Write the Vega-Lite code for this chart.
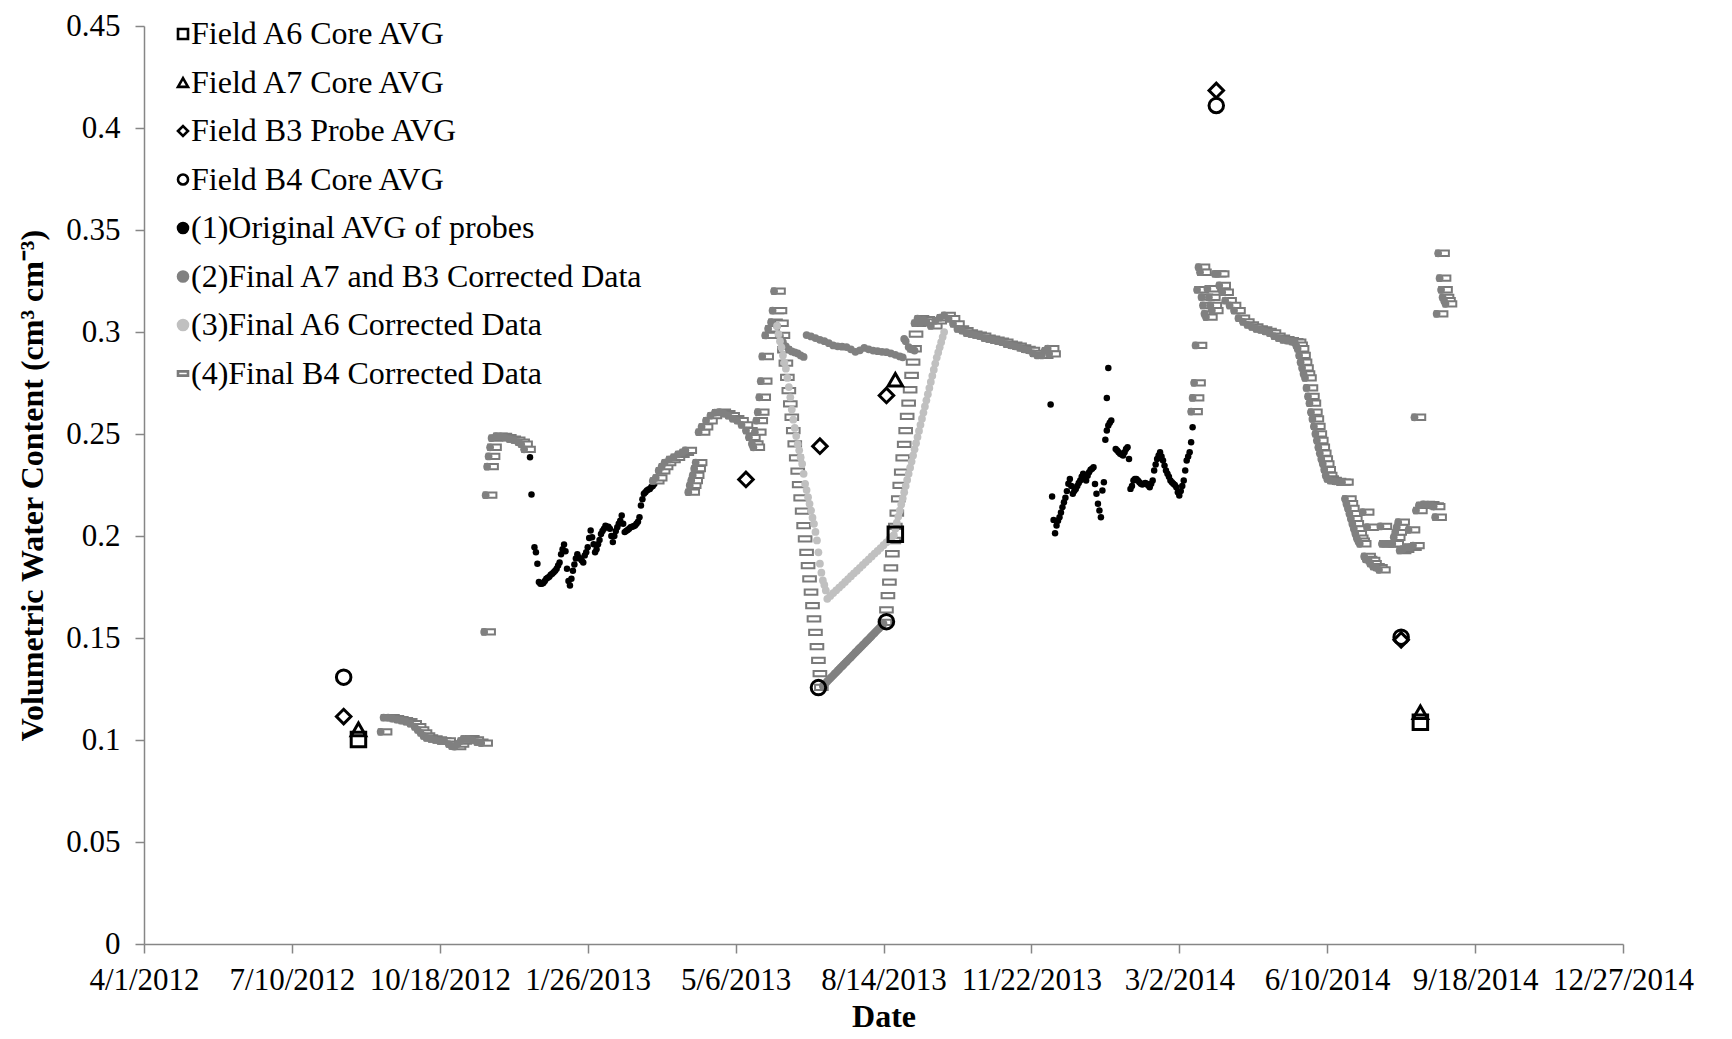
{
"$schema": "https://vega.github.io/schema/vega-lite/v6.json",
"width": 1479, "height": 918,
"autosize": {"type": "none"},
"padding": {"left": 144, "top": 26, "right": 109, "bottom": 95},
"background": "white",
"data": {"values": [
{"day":261,"v":0.2386,"s":"1"},{"day":262,"v":0.2203,"s":"1"},{"day":264,"v":0.1945,"s":"1"},{"day":265,"v":0.192,"s":"1"},{"day":266,"v":0.1864,"s":"1"},{"day":267,"v":0.1774,"s":"1"},{"day":268,"v":0.1766,"s":"1"},{"day":269,"v":0.1766,"s":"1"},{"day":270,"v":0.177,"s":"1"},{"day":271,"v":0.178,"s":"1"},{"day":272,"v":0.179,"s":"1"},{"day":273,"v":0.1795,"s":"1"},{"day":274,"v":0.18,"s":"1"},{"day":275,"v":0.181,"s":"1"},{"day":276,"v":0.1815,"s":"1"},{"day":277,"v":0.1822,"s":"1"},{"day":278,"v":0.183,"s":"1"},{"day":279,"v":0.184,"s":"1"},{"day":280,"v":0.1855,"s":"1"},{"day":281,"v":0.187,"s":"1"},{"day":282,"v":0.191,"s":"1"},{"day":283,"v":0.1935,"s":"1"},{"day":284,"v":0.1958,"s":"1"},{"day":285,"v":0.1925,"s":"1"},{"day":286,"v":0.184,"s":"1"},{"day":287,"v":0.178,"s":"1"},{"day":288,"v":0.1757,"s":"1"},{"day":289,"v":0.179,"s":"1"},{"day":290,"v":0.183,"s":"1"},{"day":291,"v":0.186,"s":"1"},{"day":292,"v":0.189,"s":"1"},{"day":293,"v":0.191,"s":"1"},{"day":294,"v":0.1895,"s":"1"},{"day":295,"v":0.1888,"s":"1"},{"day":296,"v":0.188,"s":"1"},{"day":297,"v":0.187,"s":"1"},{"day":298,"v":0.1905,"s":"1"},{"day":299,"v":0.192,"s":"1"},{"day":300,"v":0.1945,"s":"1"},{"day":301,"v":0.199,"s":"1"},{"day":302,"v":0.2027,"s":"1"},{"day":303,"v":0.1994,"s":"1"},{"day":304,"v":0.196,"s":"1"},{"day":305,"v":0.192,"s":"1"},{"day":306,"v":0.1935,"s":"1"},{"day":307,"v":0.196,"s":"1"},{"day":308,"v":0.198,"s":"1"},{"day":309,"v":0.201,"s":"1"},{"day":310,"v":0.2025,"s":"1"},{"day":311,"v":0.2035,"s":"1"},{"day":312,"v":0.205,"s":"1"},{"day":313,"v":0.2045,"s":"1"},{"day":314,"v":0.2045,"s":"1"},{"day":315,"v":0.2035,"s":"1"},{"day":316,"v":0.2,"s":"1"},{"day":317,"v":0.197,"s":"1"},{"day":318,"v":0.2,"s":"1"},{"day":319,"v":0.2025,"s":"1"},{"day":320,"v":0.2043,"s":"1"},{"day":321,"v":0.206,"s":"1"},{"day":322,"v":0.2075,"s":"1"},{"day":323,"v":0.21,"s":"1"},{"day":324,"v":0.206,"s":"1"},{"day":325,"v":0.2019,"s":"1"},{"day":326,"v":0.2025,"s":"1"},{"day":327,"v":0.203,"s":"1"},{"day":328,"v":0.2035,"s":"1"},{"day":329,"v":0.2043,"s":"1"},{"day":330,"v":0.2045,"s":"1"},{"day":331,"v":0.2048,"s":"1"},{"day":332,"v":0.2051,"s":"1"},{"day":333,"v":0.206,"s":"1"},{"day":334,"v":0.207,"s":"1"},{"day":335,"v":0.2092,"s":"1"},{"day":336,"v":0.215,"s":"1"},{"day":337,"v":0.218,"s":"1"},{"day":338,"v":0.2207,"s":"1"},{"day":339,"v":0.2215,"s":"1"},{"day":340,"v":0.2223,"s":"1"},{"day":341,"v":0.2228,"s":"1"},{"day":342,"v":0.223,"s":"1"},{"day":343,"v":0.224,"s":"1"},{"day":344,"v":0.2245,"s":"1"},{"day":345,"v":0.2255,"s":"1"},
{"day":613,"v":0.2645,"s":"1"},{"day":614,"v":0.2194,"s":"1"},{"day":615,"v":0.2079,"s":"1"},{"day":616,"v":0.2014,"s":"1"},{"day":617,"v":0.2051,"s":"1"},{"day":618,"v":0.2075,"s":"1"},{"day":619,"v":0.2092,"s":"1"},{"day":620,"v":0.2115,"s":"1"},{"day":621,"v":0.2141,"s":"1"},{"day":622,"v":0.2165,"s":"1"},{"day":623,"v":0.2187,"s":"1"},{"day":624,"v":0.222,"s":"1"},{"day":625,"v":0.2256,"s":"1"},{"day":626,"v":0.228,"s":"1"},{"day":627,"v":0.2245,"s":"1"},{"day":628,"v":0.2207,"s":"1"},{"day":629,"v":0.222,"s":"1"},{"day":630,"v":0.2231,"s":"1"},{"day":631,"v":0.2245,"s":"1"},{"day":632,"v":0.226,"s":"1"},{"day":633,"v":0.2272,"s":"1"},{"day":634,"v":0.229,"s":"1"},{"day":635,"v":0.2305,"s":"1"},{"day":636,"v":0.229,"s":"1"},{"day":637,"v":0.2272,"s":"1"},{"day":638,"v":0.2295,"s":"1"},{"day":639,"v":0.2313,"s":"1"},{"day":640,"v":0.2325,"s":"1"},{"day":641,"v":0.233,"s":"1"},{"day":642,"v":0.2337,"s":"1"},{"day":643,"v":0.2255,"s":"1"},{"day":644,"v":0.2207,"s":"1"},{"day":645,"v":0.2158,"s":"1"},{"day":646,"v":0.2125,"s":"1"},{"day":647,"v":0.2092,"s":"1"},{"day":648,"v":0.2223,"s":"1"},{"day":649,"v":0.2264,"s":"1"},{"day":650,"v":0.2472,"s":"1"},{"day":651,"v":0.2517,"s":"1"},{"day":651,"v":0.2677,"s":"1"},{"day":652,"v":0.2542,"s":"1"},{"day":652,"v":0.2823,"s":"1"},{"day":653,"v":0.2555,"s":"1"},{"day":654,"v":0.2566,"s":"1"},{"day":657,"v":0.2427,"s":"1"},{"day":658,"v":0.2419,"s":"1"},{"day":659,"v":0.241,"s":"1"},{"day":660,"v":0.2403,"s":"1"},{"day":661,"v":0.2399,"s":"1"},{"day":662,"v":0.2395,"s":"1"},{"day":663,"v":0.241,"s":"1"},{"day":664,"v":0.2427,"s":"1"},{"day":665,"v":0.2435,"s":"1"},{"day":666,"v":0.2378,"s":"1"},{"day":667,"v":0.2231,"s":"1"},{"day":668,"v":0.2245,"s":"1"},{"day":669,"v":0.2272,"s":"1"},{"day":670,"v":0.228,"s":"1"},{"day":671,"v":0.228,"s":"1"},{"day":672,"v":0.2272,"s":"1"},{"day":673,"v":0.2264,"s":"1"},{"day":674,"v":0.2256,"s":"1"},{"day":675,"v":0.2252,"s":"1"},{"day":676,"v":0.2256,"s":"1"},{"day":677,"v":0.226,"s":"1"},{"day":678,"v":0.2256,"s":"1"},{"day":679,"v":0.2248,"s":"1"},{"day":680,"v":0.2239,"s":"1"},{"day":681,"v":0.2256,"s":"1"},{"day":682,"v":0.2272,"s":"1"},{"day":683,"v":0.2321,"s":"1"},{"day":684,"v":0.235,"s":"1"},{"day":685,"v":0.2378,"s":"1"},{"day":686,"v":0.2395,"s":"1"},{"day":687,"v":0.2411,"s":"1"},{"day":688,"v":0.239,"s":"1"},{"day":689,"v":0.237,"s":"1"},{"day":690,"v":0.2345,"s":"1"},{"day":691,"v":0.2321,"s":"1"},{"day":692,"v":0.2305,"s":"1"},{"day":693,"v":0.229,"s":"1"},{"day":694,"v":0.2272,"s":"1"},{"day":695,"v":0.2264,"s":"1"},{"day":696,"v":0.2256,"s":"1"},{"day":697,"v":0.225,"s":"1"},{"day":698,"v":0.2239,"s":"1"},{"day":699,"v":0.2215,"s":"1"},{"day":700,"v":0.2199,"s":"1"},{"day":701,"v":0.222,"s":"1"},{"day":702,"v":0.2245,"s":"1"},{"day":703,"v":0.2272,"s":"1"},{"day":704,"v":0.2321,"s":"1"},{"day":705,"v":0.237,"s":"1"},{"day":706,"v":0.239,"s":"1"},{"day":707,"v":0.2411,"s":"1"},{"day":708,"v":0.246,"s":"1"},{"day":709,"v":0.2533,"s":"1"},
{"day":163,"v":0.104,"s":"4"},{"day":165,"v":0.111,"s":"4"},{"day":168,"v":0.111,"s":"4"},{"day":171,"v":0.1105,"s":"4"},{"day":174,"v":0.11,"s":"4"},{"day":177,"v":0.1095,"s":"4"},{"day":180,"v":0.109,"s":"4"},{"day":183,"v":0.108,"s":"4"},{"day":186,"v":0.1065,"s":"4"},{"day":188,"v":0.105,"s":"4"},{"day":190,"v":0.1035,"s":"4"},{"day":192,"v":0.102,"s":"4"},{"day":194,"v":0.101,"s":"4"},{"day":197,"v":0.1005,"s":"4"},{"day":200,"v":0.1,"s":"4"},{"day":203,"v":0.0995,"s":"4"},{"day":206,"v":0.0995,"s":"4"},{"day":209,"v":0.098,"s":"4"},{"day":211,"v":0.097,"s":"4"},{"day":213,"v":0.0968,"s":"4"},{"day":215,"v":0.098,"s":"4"},{"day":217,"v":0.0995,"s":"4"},{"day":219,"v":0.1005,"s":"4"},{"day":222,"v":0.1006,"s":"4"},{"day":225,"v":0.1,"s":"4"},{"day":228,"v":0.099,"s":"4"},{"day":231,"v":0.0985,"s":"4"},
{"day":233,"v":0.153,"s":"4"},{"day":234,"v":0.22,"s":"4"},{"day":235,"v":0.234,"s":"4"},{"day":236,"v":0.239,"s":"4"},{"day":237,"v":0.2435,"s":"4"},{"day":238,"v":0.248,"s":"4"},{"day":241,"v":0.249,"s":"4"},{"day":244,"v":0.2488,"s":"4"},{"day":247,"v":0.2482,"s":"4"},{"day":250,"v":0.2475,"s":"4"},{"day":253,"v":0.247,"s":"4"},{"day":256,"v":0.246,"s":"4"},{"day":258,"v":0.245,"s":"4"},{"day":260,"v":0.2425,"s":"4"},
{"day":347,"v":0.227,"s":"4"},{"day":349,"v":0.2285,"s":"4"},{"day":351,"v":0.232,"s":"4"},{"day":353,"v":0.234,"s":"4"},{"day":355,"v":0.236,"s":"4"},{"day":358,"v":0.2375,"s":"4"},{"day":361,"v":0.2386,"s":"4"},{"day":364,"v":0.24,"s":"4"},{"day":367,"v":0.241,"s":"4"},{"day":369,"v":0.242,"s":"4"},{"day":371,"v":0.2215,"s":"4"},{"day":372,"v":0.2248,"s":"4"},{"day":373,"v":0.2272,"s":"4"},{"day":374,"v":0.2297,"s":"4"},{"day":375,"v":0.233,"s":"4"},{"day":376,"v":0.236,"s":"4"},{"day":378,"v":0.2509,"s":"4"},{"day":380,"v":0.2535,"s":"4"},{"day":383,"v":0.2565,"s":"4"},{"day":386,"v":0.259,"s":"4"},{"day":389,"v":0.2605,"s":"4"},{"day":392,"v":0.2607,"s":"4"},{"day":395,"v":0.26,"s":"4"},{"day":398,"v":0.259,"s":"4"},{"day":401,"v":0.2575,"s":"4"},{"day":404,"v":0.2566,"s":"4"},{"day":407,"v":0.2545,"s":"4"},{"day":410,"v":0.2517,"s":"4"},{"day":412,"v":0.2484,"s":"4"},{"day":414,"v":0.2452,"s":"4"},{"day":415,"v":0.2435,"s":"4"},{"day":416,"v":0.2509,"s":"4"},{"day":417,"v":0.2566,"s":"4"},{"day":418,"v":0.2607,"s":"4"},{"day":419,"v":0.268,"s":"4"},{"day":420,"v":0.2759,"s":"4"},{"day":421,"v":0.288,"s":"4"},{"day":423,"v":0.2983,"s":"4"},{"day":425,"v":0.3016,"s":"4"},{"day":427,"v":0.3048,"s":"4"},{"day":428,"v":0.3105,"s":"4"},{"day":429,"v":0.32,"s":"4"},{"day":430,"v":0.3105,"s":"4"},{"day":431,"v":0.3043,"s":"4"},{"day":432,"v":0.2983,"s":"4"},{"day":433,"v":0.2913,"s":"4"},{"day":434,"v":0.2847,"s":"4"},{"day":435,"v":0.2778,"s":"4"},{"day":436,"v":0.2713,"s":"4"},{"day":437,"v":0.2648,"s":"4"},{"day":438,"v":0.2582,"s":"4"},{"day":439,"v":0.2517,"s":"4"},{"day":440,"v":0.2452,"s":"4"},{"day":441,"v":0.2383,"s":"4"},{"day":442,"v":0.2318,"s":"4"},{"day":443,"v":0.2252,"s":"4"},{"day":444,"v":0.2187,"s":"4"},{"day":445,"v":0.2122,"s":"4"},{"day":446,"v":0.2051,"s":"4"},{"day":447,"v":0.1986,"s":"4"},{"day":448,"v":0.192,"s":"4"},{"day":449,"v":0.1855,"s":"4"},{"day":450,"v":0.179,"s":"4"},{"day":451,"v":0.1725,"s":"4"},{"day":452,"v":0.1659,"s":"4"},{"day":453,"v":0.1594,"s":"4"},{"day":454,"v":0.1528,"s":"4"},{"day":455,"v":0.1458,"s":"4"},{"day":456,"v":0.139,"s":"4"},{"day":457,"v":0.1325,"s":"4"},{"day":458,"v":0.1258,"s":"4"},{"day":501,"v":0.1577,"s":"4"},{"day":502,"v":0.1638,"s":"4"},{"day":503,"v":0.1708,"s":"4"},{"day":504,"v":0.1774,"s":"4"},{"day":505,"v":0.1844,"s":"4"},{"day":506,"v":0.1913,"s":"4"},{"day":507,"v":0.1978,"s":"4"},{"day":508,"v":0.2047,"s":"4"},{"day":509,"v":0.2112,"s":"4"},{"day":510,"v":0.2182,"s":"4"},{"day":511,"v":0.2248,"s":"4"},{"day":512,"v":0.2313,"s":"4"},{"day":513,"v":0.2383,"s":"4"},{"day":514,"v":0.2449,"s":"4"},{"day":515,"v":0.2517,"s":"4"},{"day":516,"v":0.2586,"s":"4"},{"day":517,"v":0.2651,"s":"4"},{"day":518,"v":0.2717,"s":"4"},{"day":519,"v":0.2787,"s":"4"},{"day":520,"v":0.2852,"s":"4"},{"day":521,"v":0.2918,"s":"4"},{"day":522,"v":0.299,"s":"4"},{"day":524,"v":0.3043,"s":"4"},{"day":526,"v":0.3065,"s":"4"},{"day":528,"v":0.3045,"s":"4"},{"day":530,"v":0.306,"s":"4"},{"day":532,"v":0.305,"s":"4"},{"day":535,"v":0.303,"s":"4"},{"day":538,"v":0.3055,"s":"4"},{"day":541,"v":0.307,"s":"4"},{"day":544,"v":0.3081,"s":"4"},{"day":547,"v":0.3065,"s":"4"},{"day":550,"v":0.304,"s":"4"},{"day":553,"v":0.3015,"s":"4"},{"day":556,"v":0.3007,"s":"4"},{"day":559,"v":0.2995,"s":"4"},{"day":562,"v":0.299,"s":"4"},{"day":565,"v":0.2985,"s":"4"},{"day":568,"v":0.298,"s":"4"},{"day":571,"v":0.297,"s":"4"},{"day":574,"v":0.2965,"s":"4"},{"day":577,"v":0.296,"s":"4"},{"day":580,"v":0.2955,"s":"4"},{"day":583,"v":0.295,"s":"4"},{"day":586,"v":0.294,"s":"4"},{"day":589,"v":0.2935,"s":"4"},{"day":592,"v":0.293,"s":"4"},{"day":595,"v":0.2922,"s":"4"},{"day":598,"v":0.2915,"s":"4"},{"day":601,"v":0.291,"s":"4"},{"day":604,"v":0.2895,"s":"4"},{"day":607,"v":0.2885,"s":"4"},{"day":610,"v":0.2885,"s":"4"},{"day":612,"v":0.2909,"s":"4"},{"day":614,"v":0.2918,"s":"4"},{"day":615,"v":0.2893,"s":"4"},
{"day":711,"v":0.261,"s":"4"},{"day":712,"v":0.2677,"s":"4"},{"day":713,"v":0.2751,"s":"4"},{"day":714,"v":0.2934,"s":"4"},{"day":715,"v":0.3207,"s":"4"},{"day":716,"v":0.3318,"s":"4"},{"day":717,"v":0.3293,"s":"4"},{"day":718,"v":0.3171,"s":"4"},{"day":719,"v":0.313,"s":"4"},{"day":720,"v":0.3089,"s":"4"},{"day":721,"v":0.3073,"s":"4"},{"day":722,"v":0.3212,"s":"4"},{"day":723,"v":0.317,"s":"4"},{"day":724,"v":0.313,"s":"4"},{"day":725,"v":0.3105,"s":"4"},{"day":727,"v":0.3285,"s":"4"},{"day":729,"v":0.3285,"s":"4"},{"day":730,"v":0.3228,"s":"4"},{"day":732,"v":0.3195,"s":"4"},{"day":734,"v":0.3154,"s":"4"},{"day":737,"v":0.313,"s":"4"},{"day":740,"v":0.3105,"s":"4"},{"day":743,"v":0.3068,"s":"4"},{"day":746,"v":0.305,"s":"4"},{"day":749,"v":0.3035,"s":"4"},{"day":752,"v":0.3025,"s":"4"},{"day":755,"v":0.3015,"s":"4"},{"day":758,"v":0.301,"s":"4"},{"day":761,"v":0.3003,"s":"4"},{"day":764,"v":0.2995,"s":"4"},{"day":767,"v":0.298,"s":"4"},{"day":770,"v":0.297,"s":"4"},{"day":773,"v":0.2962,"s":"4"},{"day":776,"v":0.2958,"s":"4"},{"day":779,"v":0.2953,"s":"4"},{"day":781,"v":0.295,"s":"4"},{"day":782,"v":0.2935,"s":"4"},{"day":783,"v":0.2918,"s":"4"},{"day":784,"v":0.2885,"s":"4"},{"day":785,"v":0.2852,"s":"4"},{"day":786,"v":0.2824,"s":"4"},{"day":787,"v":0.2795,"s":"4"},{"day":788,"v":0.2775,"s":"4"},{"day":789,"v":0.2726,"s":"4"},{"day":790,"v":0.2684,"s":"4"},{"day":791,"v":0.2651,"s":"4"},{"day":792,"v":0.2607,"s":"4"},{"day":793,"v":0.2574,"s":"4"},{"day":794,"v":0.2537,"s":"4"},{"day":795,"v":0.2501,"s":"4"},{"day":796,"v":0.2468,"s":"4"},{"day":797,"v":0.2435,"s":"4"},{"day":798,"v":0.2406,"s":"4"},{"day":799,"v":0.2378,"s":"4"},{"day":800,"v":0.2354,"s":"4"},{"day":801,"v":0.2325,"s":"4"},{"day":802,"v":0.2297,"s":"4"},{"day":803,"v":0.228,"s":"4"},{"day":805,"v":0.2272,"s":"4"},{"day":808,"v":0.2268,"s":"4"},{"day":811,"v":0.2264,"s":"4"},{"day":813,"v":0.2264,"s":"4"},{"day":815,"v":0.2182,"s":"4"},{"day":816,"v":0.2158,"s":"4"},{"day":817,"v":0.2135,"s":"4"},{"day":818,"v":0.211,"s":"4"},{"day":819,"v":0.2085,"s":"4"},{"day":820,"v":0.206,"s":"4"},{"day":821,"v":0.2035,"s":"4"},{"day":822,"v":0.2012,"s":"4"},{"day":823,"v":0.199,"s":"4"},{"day":824,"v":0.1975,"s":"4"},{"day":825,"v":0.1962,"s":"4"},{"day":827,"v":0.2117,"s":"4"},{"day":828,"v":0.19,"s":"4"},{"day":829,"v":0.1885,"s":"4"},{"day":830,"v":0.2043,"s":"4"},{"day":831,"v":0.188,"s":"4"},{"day":832,"v":0.1865,"s":"4"},{"day":834,"v":0.185,"s":"4"},{"day":836,"v":0.1845,"s":"4"},{"day":838,"v":0.1834,"s":"4"},{"day":839,"v":0.2047,"s":"4"},{"day":840,"v":0.1962,"s":"4"},{"day":842,"v":0.1962,"s":"4"},{"day":845,"v":0.1962,"s":"4"},{"day":847,"v":0.1962,"s":"4"},{"day":848,"v":0.1994,"s":"4"},{"day":849,"v":0.2019,"s":"4"},{"day":850,"v":0.2043,"s":"4"},{"day":851,"v":0.2068,"s":"4"},{"day":852,"v":0.1929,"s":"4"},{"day":854,"v":0.1935,"s":"4"},{"day":856,"v":0.1945,"s":"4"},{"day":858,"v":0.203,"s":"4"},{"day":859,"v":0.1945,"s":"4"},{"day":861,"v":0.1953,"s":"4"},{"day":862,"v":0.2582,"s":"4"},{"day":863,"v":0.2125,"s":"4"},{"day":865,"v":0.215,"s":"4"},{"day":868,"v":0.2155,"s":"4"},{"day":871,"v":0.2154,"s":"4"},{"day":874,"v":0.2148,"s":"4"},{"day":875,"v":0.2144,"s":"4"},{"day":876,"v":0.2092,"s":"4"},{"day":877,"v":0.3089,"s":"4"},{"day":878,"v":0.3386,"s":"4"},{"day":879,"v":0.3264,"s":"4"},{"day":880,"v":0.3207,"s":"4"},{"day":881,"v":0.317,"s":"4"},{"day":882,"v":0.3154,"s":"4"},{"day":883,"v":0.3138,"s":"4"},
{"day":160,"v":0.104,"s":"2"},{"day":162,"v":0.111,"s":"2"},{"day":165,"v":0.111,"s":"2"},{"day":168,"v":0.1105,"s":"2"},{"day":171,"v":0.11,"s":"2"},{"day":174,"v":0.1095,"s":"2"},{"day":177,"v":0.109,"s":"2"},{"day":180,"v":0.108,"s":"2"},{"day":183,"v":0.1065,"s":"2"},{"day":185,"v":0.105,"s":"2"},{"day":187,"v":0.1035,"s":"2"},{"day":189,"v":0.102,"s":"2"},{"day":191,"v":0.101,"s":"2"},{"day":194,"v":0.1005,"s":"2"},{"day":197,"v":0.1,"s":"2"},{"day":200,"v":0.0995,"s":"2"},{"day":203,"v":0.0995,"s":"2"},{"day":206,"v":0.098,"s":"2"},{"day":208,"v":0.097,"s":"2"},{"day":210,"v":0.0968,"s":"2"},{"day":212,"v":0.098,"s":"2"},{"day":214,"v":0.0995,"s":"2"},{"day":216,"v":0.1005,"s":"2"},{"day":219,"v":0.1006,"s":"2"},{"day":222,"v":0.1,"s":"2"},{"day":225,"v":0.099,"s":"2"},{"day":228,"v":0.0985,"s":"2"},
{"day":230,"v":0.153,"s":"2"},{"day":231,"v":0.22,"s":"2"},{"day":232,"v":0.234,"s":"2"},{"day":233,"v":0.239,"s":"2"},{"day":234,"v":0.2435,"s":"2"},{"day":235,"v":0.248,"s":"2"},{"day":238,"v":0.249,"s":"2"},{"day":241,"v":0.2488,"s":"2"},{"day":244,"v":0.2482,"s":"2"},{"day":247,"v":0.2475,"s":"2"},{"day":250,"v":0.247,"s":"2"},{"day":253,"v":0.246,"s":"2"},{"day":255,"v":0.245,"s":"2"},{"day":257,"v":0.2425,"s":"2"},
{"day":344,"v":0.227,"s":"2"},{"day":346,"v":0.2285,"s":"2"},{"day":348,"v":0.232,"s":"2"},{"day":350,"v":0.234,"s":"2"},{"day":352,"v":0.236,"s":"2"},{"day":355,"v":0.2375,"s":"2"},{"day":358,"v":0.2386,"s":"2"},{"day":361,"v":0.24,"s":"2"},{"day":364,"v":0.241,"s":"2"},{"day":366,"v":0.242,"s":"2"},{"day":368,"v":0.2215,"s":"2"},{"day":369,"v":0.2248,"s":"2"},{"day":370,"v":0.2272,"s":"2"},{"day":371,"v":0.2297,"s":"2"},{"day":372,"v":0.233,"s":"2"},{"day":373,"v":0.236,"s":"2"},{"day":375,"v":0.2509,"s":"2"},{"day":377,"v":0.2535,"s":"2"},{"day":380,"v":0.2565,"s":"2"},{"day":383,"v":0.259,"s":"2"},{"day":386,"v":0.2605,"s":"2"},{"day":389,"v":0.2607,"s":"2"},{"day":392,"v":0.26,"s":"2"},{"day":395,"v":0.259,"s":"2"},{"day":398,"v":0.2575,"s":"2"},{"day":401,"v":0.2566,"s":"2"},{"day":404,"v":0.2545,"s":"2"},{"day":407,"v":0.2517,"s":"2"},{"day":409,"v":0.2484,"s":"2"},{"day":411,"v":0.2452,"s":"2"},{"day":412,"v":0.2435,"s":"2"},{"day":413,"v":0.2509,"s":"2"},{"day":414,"v":0.2566,"s":"2"},{"day":415,"v":0.2607,"s":"2"},{"day":416,"v":0.268,"s":"2"},{"day":417,"v":0.2759,"s":"2"},{"day":418,"v":0.288,"s":"2"},{"day":420,"v":0.2983,"s":"2"},{"day":422,"v":0.3016,"s":"2"},{"day":424,"v":0.3048,"s":"2"},{"day":425,"v":0.3105,"s":"2"},{"day":426,"v":0.32,"s":"2"},{"day":428,"v":0.303,"s":"2"},{"day":430,"v":0.298,"s":"2"},{"day":432,"v":0.295,"s":"2"},{"day":434,"v":0.293,"s":"2"},{"day":436,"v":0.2915,"s":"2"},{"day":438,"v":0.2905,"s":"2"},{"day":440,"v":0.29,"s":"2"},{"day":442,"v":0.2895,"s":"2"},{"day":444,"v":0.2885,"s":"2"},{"day":446,"v":0.2878,"s":"2"},{"day":448,"v":0.2985,"s":"2"},{"day":451,"v":0.2978,"s":"2"},{"day":454,"v":0.297,"s":"2"},{"day":457,"v":0.2962,"s":"2"},{"day":460,"v":0.2955,"s":"2"},{"day":463,"v":0.2945,"s":"2"},{"day":466,"v":0.2934,"s":"2"},{"day":469,"v":0.293,"s":"2"},{"day":472,"v":0.2928,"s":"2"},{"day":475,"v":0.2926,"s":"2"},{"day":478,"v":0.2915,"s":"2"},{"day":481,"v":0.2903,"s":"2"},{"day":484,"v":0.291,"s":"2"},{"day":487,"v":0.2922,"s":"2"},{"day":490,"v":0.2915,"s":"2"},{"day":493,"v":0.2909,"s":"2"},{"day":496,"v":0.2906,"s":"2"},{"day":499,"v":0.2903,"s":"2"},{"day":502,"v":0.2901,"s":"2"},{"day":505,"v":0.2895,"s":"2"},{"day":508,"v":0.2888,"s":"2"},{"day":511,"v":0.288,"s":"2"},{"day":513,"v":0.2876,"s":"2"},{"day":514,"v":0.2966,"s":"2"},{"day":515,"v":0.2955,"s":"2"},{"day":517,"v":0.2926,"s":"2"},{"day":519,"v":0.2915,"s":"2"},{"day":521,"v":0.2909,"s":"2"},
{"day":459,"v":0.1265,"s":"2"},{"day":460,"v":0.1273,"s":"2"},{"day":461,"v":0.128,"s":"2"},{"day":462,"v":0.1288,"s":"2"},{"day":463,"v":0.1295,"s":"2"},{"day":464,"v":0.1303,"s":"2"},{"day":465,"v":0.131,"s":"2"},{"day":466,"v":0.1317,"s":"2"},{"day":467,"v":0.1325,"s":"2"},{"day":468,"v":0.1332,"s":"2"},{"day":469,"v":0.134,"s":"2"},{"day":470,"v":0.1347,"s":"2"},{"day":471,"v":0.1355,"s":"2"},{"day":472,"v":0.1362,"s":"2"},{"day":473,"v":0.1369,"s":"2"},{"day":474,"v":0.1377,"s":"2"},{"day":475,"v":0.1384,"s":"2"},{"day":476,"v":0.1392,"s":"2"},{"day":477,"v":0.1399,"s":"2"},{"day":478,"v":0.1406,"s":"2"},{"day":479,"v":0.1414,"s":"2"},{"day":480,"v":0.1421,"s":"2"},{"day":481,"v":0.1429,"s":"2"},{"day":482,"v":0.1436,"s":"2"},{"day":483,"v":0.1444,"s":"2"},{"day":484,"v":0.1451,"s":"2"},{"day":485,"v":0.1458,"s":"2"},{"day":486,"v":0.1466,"s":"2"},{"day":487,"v":0.1473,"s":"2"},{"day":488,"v":0.1481,"s":"2"},{"day":489,"v":0.1488,"s":"2"},{"day":490,"v":0.1495,"s":"2"},{"day":491,"v":0.1503,"s":"2"},{"day":492,"v":0.151,"s":"2"},{"day":493,"v":0.1518,"s":"2"},{"day":494,"v":0.1525,"s":"2"},{"day":495,"v":0.1533,"s":"2"},{"day":496,"v":0.154,"s":"2"},{"day":497,"v":0.1547,"s":"2"},{"day":498,"v":0.1555,"s":"2"},{"day":499,"v":0.1562,"s":"2"},{"day":500,"v":0.157,"s":"2"},
{"day":521,"v":0.3043,"s":"2"},{"day":523,"v":0.3065,"s":"2"},{"day":525,"v":0.3045,"s":"2"},{"day":527,"v":0.306,"s":"2"},{"day":529,"v":0.305,"s":"2"},{"day":532,"v":0.303,"s":"2"},{"day":535,"v":0.3055,"s":"2"},{"day":538,"v":0.307,"s":"2"},{"day":541,"v":0.3081,"s":"2"},{"day":544,"v":0.3065,"s":"2"},{"day":547,"v":0.304,"s":"2"},{"day":550,"v":0.3015,"s":"2"},{"day":553,"v":0.3007,"s":"2"},{"day":556,"v":0.2995,"s":"2"},{"day":559,"v":0.299,"s":"2"},{"day":562,"v":0.2985,"s":"2"},{"day":565,"v":0.298,"s":"2"},{"day":568,"v":0.297,"s":"2"},{"day":571,"v":0.2965,"s":"2"},{"day":574,"v":0.296,"s":"2"},{"day":577,"v":0.2955,"s":"2"},{"day":580,"v":0.295,"s":"2"},{"day":583,"v":0.294,"s":"2"},{"day":586,"v":0.2935,"s":"2"},{"day":589,"v":0.293,"s":"2"},{"day":592,"v":0.2922,"s":"2"},{"day":595,"v":0.2915,"s":"2"},{"day":598,"v":0.291,"s":"2"},{"day":601,"v":0.2895,"s":"2"},{"day":604,"v":0.2885,"s":"2"},{"day":607,"v":0.2885,"s":"2"},{"day":609,"v":0.2909,"s":"2"},{"day":611,"v":0.2918,"s":"2"},{"day":612,"v":0.2893,"s":"2"},
{"day":708,"v":0.261,"s":"2"},{"day":709,"v":0.2677,"s":"2"},{"day":710,"v":0.2751,"s":"2"},{"day":711,"v":0.2934,"s":"2"},{"day":712,"v":0.3207,"s":"2"},{"day":713,"v":0.3318,"s":"2"},{"day":714,"v":0.3293,"s":"2"},{"day":715,"v":0.3171,"s":"2"},{"day":716,"v":0.313,"s":"2"},{"day":717,"v":0.3089,"s":"2"},{"day":718,"v":0.3073,"s":"2"},{"day":719,"v":0.3212,"s":"2"},{"day":720,"v":0.317,"s":"2"},{"day":721,"v":0.313,"s":"2"},{"day":722,"v":0.3105,"s":"2"},{"day":724,"v":0.3285,"s":"2"},{"day":726,"v":0.3285,"s":"2"},{"day":727,"v":0.3228,"s":"2"},{"day":729,"v":0.3195,"s":"2"},{"day":731,"v":0.3154,"s":"2"},{"day":734,"v":0.313,"s":"2"},{"day":737,"v":0.3105,"s":"2"},{"day":740,"v":0.3068,"s":"2"},{"day":743,"v":0.305,"s":"2"},{"day":746,"v":0.3035,"s":"2"},{"day":749,"v":0.3025,"s":"2"},{"day":752,"v":0.3015,"s":"2"},{"day":755,"v":0.301,"s":"2"},{"day":758,"v":0.3003,"s":"2"},{"day":761,"v":0.2995,"s":"2"},{"day":764,"v":0.298,"s":"2"},{"day":767,"v":0.297,"s":"2"},{"day":770,"v":0.2962,"s":"2"},{"day":773,"v":0.2958,"s":"2"},{"day":776,"v":0.2953,"s":"2"},{"day":778,"v":0.295,"s":"2"},{"day":779,"v":0.2935,"s":"2"},{"day":780,"v":0.2918,"s":"2"},{"day":781,"v":0.2885,"s":"2"},{"day":782,"v":0.2852,"s":"2"},{"day":783,"v":0.2824,"s":"2"},{"day":784,"v":0.2795,"s":"2"},{"day":785,"v":0.2775,"s":"2"},{"day":786,"v":0.2726,"s":"2"},{"day":787,"v":0.2684,"s":"2"},{"day":788,"v":0.2651,"s":"2"},{"day":789,"v":0.2607,"s":"2"},{"day":790,"v":0.2574,"s":"2"},{"day":791,"v":0.2537,"s":"2"},{"day":792,"v":0.2501,"s":"2"},{"day":793,"v":0.2468,"s":"2"},{"day":794,"v":0.2435,"s":"2"},{"day":795,"v":0.2406,"s":"2"},{"day":796,"v":0.2378,"s":"2"},{"day":797,"v":0.2354,"s":"2"},{"day":798,"v":0.2325,"s":"2"},{"day":799,"v":0.2297,"s":"2"},{"day":800,"v":0.228,"s":"2"},{"day":802,"v":0.2272,"s":"2"},{"day":805,"v":0.2268,"s":"2"},{"day":808,"v":0.2264,"s":"2"},{"day":810,"v":0.2264,"s":"2"},{"day":812,"v":0.2182,"s":"2"},{"day":813,"v":0.2158,"s":"2"},{"day":814,"v":0.2135,"s":"2"},{"day":815,"v":0.211,"s":"2"},{"day":816,"v":0.2085,"s":"2"},{"day":817,"v":0.206,"s":"2"},{"day":818,"v":0.2035,"s":"2"},{"day":819,"v":0.2012,"s":"2"},{"day":820,"v":0.199,"s":"2"},{"day":821,"v":0.1975,"s":"2"},{"day":822,"v":0.1962,"s":"2"},{"day":824,"v":0.2117,"s":"2"},{"day":825,"v":0.19,"s":"2"},{"day":826,"v":0.1885,"s":"2"},{"day":827,"v":0.2043,"s":"2"},{"day":828,"v":0.188,"s":"2"},{"day":829,"v":0.1865,"s":"2"},{"day":831,"v":0.185,"s":"2"},{"day":833,"v":0.1845,"s":"2"},{"day":835,"v":0.1834,"s":"2"},{"day":836,"v":0.2047,"s":"2"},{"day":837,"v":0.1962,"s":"2"},{"day":839,"v":0.1962,"s":"2"},{"day":842,"v":0.1962,"s":"2"},{"day":844,"v":0.1962,"s":"2"},{"day":845,"v":0.1994,"s":"2"},{"day":846,"v":0.2019,"s":"2"},{"day":847,"v":0.2043,"s":"2"},{"day":848,"v":0.2068,"s":"2"},{"day":849,"v":0.1929,"s":"2"},{"day":851,"v":0.1935,"s":"2"},{"day":853,"v":0.1945,"s":"2"},{"day":855,"v":0.203,"s":"2"},{"day":856,"v":0.1945,"s":"2"},{"day":858,"v":0.1953,"s":"2"},{"day":859,"v":0.2582,"s":"2"},{"day":860,"v":0.2125,"s":"2"},{"day":862,"v":0.215,"s":"2"},{"day":865,"v":0.2155,"s":"2"},{"day":868,"v":0.2154,"s":"2"},{"day":871,"v":0.2148,"s":"2"},{"day":872,"v":0.2144,"s":"2"},{"day":873,"v":0.2092,"s":"2"},{"day":874,"v":0.3089,"s":"2"},{"day":875,"v":0.3386,"s":"2"},{"day":876,"v":0.3264,"s":"2"},{"day":877,"v":0.3207,"s":"2"},{"day":878,"v":0.317,"s":"2"},{"day":879,"v":0.3154,"s":"2"},{"day":880,"v":0.3138,"s":"2"},
{"day":428,"v":0.303,"s":"3"},{"day":429,"v":0.299,"s":"3"},{"day":430,"v":0.2955,"s":"3"},{"day":431,"v":0.2925,"s":"3"},{"day":432,"v":0.2885,"s":"3"},{"day":433,"v":0.285,"s":"3"},{"day":434,"v":0.282,"s":"3"},{"day":435,"v":0.2775,"s":"3"},{"day":436,"v":0.273,"s":"3"},{"day":437,"v":0.268,"s":"3"},{"day":438,"v":0.262,"s":"3"},{"day":439,"v":0.257,"s":"3"},{"day":440,"v":0.253,"s":"3"},{"day":441,"v":0.249,"s":"3"},{"day":442,"v":0.245,"s":"3"},{"day":443,"v":0.242,"s":"3"},{"day":444,"v":0.2385,"s":"3"},{"day":445,"v":0.2354,"s":"3"},{"day":446,"v":0.2305,"s":"3"},{"day":447,"v":0.2256,"s":"3"},{"day":448,"v":0.2225,"s":"3"},{"day":449,"v":0.219,"s":"3"},{"day":450,"v":0.2158,"s":"3"},{"day":451,"v":0.2125,"s":"3"},{"day":452,"v":0.209,"s":"3"},{"day":453,"v":0.206,"s":"3"},{"day":454,"v":0.202,"s":"3"},{"day":455,"v":0.1978,"s":"3"},{"day":456,"v":0.192,"s":"3"},{"day":457,"v":0.1864,"s":"3"},{"day":458,"v":0.182,"s":"3"},{"day":459,"v":0.1782,"s":"3"},{"day":460,"v":0.176,"s":"3"},{"day":461,"v":0.1733,"s":"3"},{"day":462,"v":0.1692,"s":"3"},{"day":464,"v":0.1706,"s":"3"},{"day":466,"v":0.172,"s":"3"},{"day":468,"v":0.1734,"s":"3"},{"day":470,"v":0.1747,"s":"3"},{"day":472,"v":0.1761,"s":"3"},{"day":474,"v":0.1775,"s":"3"},{"day":476,"v":0.1789,"s":"3"},{"day":478,"v":0.1803,"s":"3"},{"day":480,"v":0.1817,"s":"3"},{"day":482,"v":0.183,"s":"3"},{"day":484,"v":0.1844,"s":"3"},{"day":486,"v":0.1858,"s":"3"},{"day":488,"v":0.1872,"s":"3"},{"day":490,"v":0.1886,"s":"3"},{"day":492,"v":0.19,"s":"3"},{"day":494,"v":0.1914,"s":"3"},{"day":496,"v":0.1927,"s":"3"},{"day":498,"v":0.1941,"s":"3"},{"day":500,"v":0.1955,"s":"3"},{"day":502,"v":0.1969,"s":"3"},{"day":504,"v":0.1983,"s":"3"},{"day":506,"v":0.1997,"s":"3"},{"day":507,"v":0.2004,"s":"3"},{"day":508,"v":0.2035,"s":"3"},{"day":509,"v":0.2065,"s":"3"},{"day":510,"v":0.2095,"s":"3"},{"day":511,"v":0.2125,"s":"3"},{"day":512,"v":0.2155,"s":"3"},{"day":513,"v":0.2185,"s":"3"},{"day":514,"v":0.2215,"s":"3"},{"day":515,"v":0.2245,"s":"3"},{"day":516,"v":0.2275,"s":"3"},{"day":517,"v":0.2305,"s":"3"},{"day":518,"v":0.2335,"s":"3"},{"day":519,"v":0.2365,"s":"3"},{"day":520,"v":0.2395,"s":"3"},{"day":521,"v":0.2425,"s":"3"},{"day":522,"v":0.2455,"s":"3"},{"day":523,"v":0.2485,"s":"3"},{"day":524,"v":0.2515,"s":"3"},{"day":525,"v":0.2545,"s":"3"},{"day":526,"v":0.2575,"s":"3"},{"day":527,"v":0.2605,"s":"3"},{"day":528,"v":0.2635,"s":"3"},{"day":529,"v":0.2665,"s":"3"},{"day":530,"v":0.2695,"s":"3"},{"day":531,"v":0.2725,"s":"3"},{"day":532,"v":0.2755,"s":"3"},{"day":533,"v":0.2785,"s":"3"},{"day":534,"v":0.2815,"s":"3"},{"day":535,"v":0.2845,"s":"3"},{"day":536,"v":0.2875,"s":"3"},{"day":537,"v":0.29,"s":"3"},{"day":538,"v":0.2925,"s":"3"},{"day":539,"v":0.295,"s":"3"},{"day":540,"v":0.2975,"s":"3"},{"day":541,"v":0.3,"s":"3"},
{"day":145,"v":0.1002,"s":"A6"},{"day":508,"v":0.2008,"s":"A6"},{"day":863,"v":0.1087,"s":"A6"},
{"day":145,"v":0.1052,"s":"A7"},{"day":508,"v":0.2766,"s":"A7"},{"day":863,"v":0.1136,"s":"A7"},
{"day":135,"v":0.1115,"s":"B3"},{"day":407,"v":0.2277,"s":"B3"},{"day":457,"v":0.244,"s":"B3"},{"day":502,"v":0.2689,"s":"B3"},{"day":725,"v":0.4184,"s":"B3"},{"day":850,"v":0.1491,"s":"B3"},
{"day":135,"v":0.1308,"s":"B4"},{"day":456,"v":0.1257,"s":"B4"},{"day":502,"v":0.158,"s":"B4"},{"day":725,"v":0.411,"s":"B4"},{"day":850,"v":0.1504,"s":"B4"}
]},
"encoding": {
"x": {"field": "day", "type": "quantitative", "scale": {"domain": [0, 1000], "nice": false, "zero": false},
  "axis": {"title": "Date", "values": [0,100,200,300,400,500,600,700,800,900,1000],
    "labelExpr": "timeFormat(datetime(2012, 3, 1 + datum.value), '%-m/%-d/%Y')",
    "labelPadding": 12, "titlePadding": 6, "labelOverlap": false, "labelFlush": false}},
"y": {"field": "v", "type": "quantitative", "scale": {"domain": [0, 0.45], "nice": false},
  "axis": {"title": "Volumetric Water Content (cm³ cm⁻³)", "values": [0,0.05,0.1,0.15,0.2,0.25,0.3,0.35,0.4,0.45],
    "format": ".2~f", "labelPadding": 15, "titlePadding": 16}},
"shape": {"field": "s", "type": "nominal",
  "scale": {"domain": ["A6","A7","B3","B4","1","2","3","4"], "range": ["square","triangle-up","diamond","circle","circle","circle","circle","M-1,-0.42L1,-0.42L1,0.42L-1,0.42Z"]},
  "legend": {"title": null, "orient": "none", "legendX": 23, "legendY": -8, "symbolStrokeWidth": 2.6,
    "labelExpr": "datum.label === 'A6' ? 'Field A6 Core AVG' : datum.label === 'A7' ? 'Field A7 Core AVG' : datum.label === 'B3' ? 'Field B3 Probe AVG' : datum.label === 'B4' ? 'Field B4 Core AVG' : datum.label === '1' ? '(1)Original AVG of probes' : datum.label === '2' ? '(2)Final A7 and B3 Corrected Data' : datum.label === '3' ? '(3)Final A6 Corrected Data' : '(4)Final B4 Corrected Data'",
    "encode": {"symbols": {
      "update": {"size": {"signal": "indexof(['A6','A7','B3','B4'], datum.value) >= 0 ? 100 : datum.value === '4' ? 80 : 14"}}}}}},
"fill": {"field": "s", "type": "nominal",
  "scale": {"domain": ["A6","A7","B3","B4","1","2","3","4"], "range": ["transparent","transparent","transparent","transparent","#000000","#808080","#c0c0c0","#ffffff"]}},
"stroke": {"field": "s", "type": "nominal",
  "scale": {"domain": ["A6","A7","B3","B4","1","2","3","4"], "range": ["#000000","#000000","#000000","#000000","#000000","#808080","#c0c0c0","#7a7a7a"]}}
},
"layer": [
{"transform": [{"filter": {"field": "s", "equal": "1"}}], "mark": {"type": "point", "opacity": 1, "size": 42, "strokeWidth": 0}},
{"transform": [{"filter": {"field": "s", "equal": "4"}}], "mark": {"type": "point", "opacity": 1, "size": 160, "strokeWidth": 2}},
{"transform": [{"filter": {"field": "s", "equal": "2"}}], "mark": {"type": "point", "opacity": 1, "size": 60, "strokeWidth": 0}},
{"transform": [{"filter": {"field": "s", "equal": "3"}}], "mark": {"type": "point", "opacity": 1, "size": 60, "strokeWidth": 0}},
{"transform": [{"filter": {"field": "s", "oneOf": ["A6","A7","B3","B4"]}}], "mark": {"type": "point", "opacity": 1, "size": 210, "strokeWidth": 3}}
],
"config": {
"view": {"stroke": null},
"axis": {"grid": false, "domainColor": "#868686", "domainWidth": 1.5, "tickColor": "#868686", "tickWidth": 1.5, "tickSize": 9,
  "labelFont": "Liberation Serif", "labelFontSize": 31, "labelColor": "#000000",
  "titleFont": "Liberation Serif", "titleFontSize": 32, "titleFontWeight": "bold", "titleColor": "#000000"},
"legend": {"labelFont": "Liberation Serif", "labelFontSize": 32, "labelColor": "#000000", "labelLimit": 900, "rowPadding": 16.5, "labelOffset": -8, "padding": 0, "symbolOpacity": 1, "symbolStrokeWidth": 2.6}
}
}
